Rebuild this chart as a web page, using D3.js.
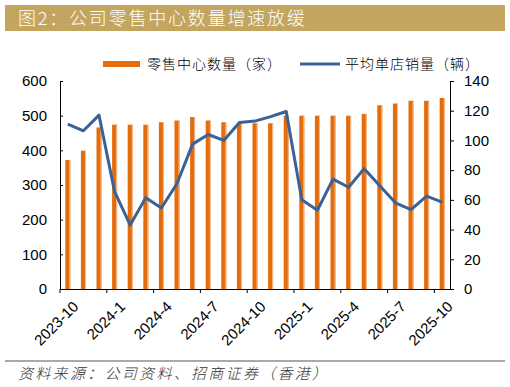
<!DOCTYPE html>
<html>
<head>
<meta charset="utf-8">
<script src="https://cdn.jsdelivr.net/npm/d3@7"></script>
<style>
  body { margin: 0; background: white; }
  text { font-family: "Liberation Sans", Arial, sans-serif; }
  .cjk { font-family: "Noto Sans CJK SC", sans-serif; font-weight: 300; }
</style>
</head>
<body>
<div id="chart"></div>
<script>
// months, 2023-10 .. 2025-10
var months = ["2023-10","2023-11","2023-12","2024-1","2024-2","2024-3","2024-4","2024-5","2024-6",
  "2024-7","2024-8","2024-9","2024-10","2024-11","2024-12","2025-1","2025-2","2025-3","2025-4",
  "2025-5","2025-6","2025-7","2025-8","2025-9","2025-10"];
// 零售中心数量（家）
var centers = [372, 399, 466, 474, 474, 474, 481, 486, 496, 486, 481, 478, 478, 478, 500,
  500, 500, 500, 500, 505, 530, 535, 543, 543, 551];
// 平均单店销量（辆）
var salesPerStore = [111, 106.5, 117, 65.5, 43, 61.5, 54.5, 71, 97.5, 104, 100, 112, 113,
  116, 119.5, 60, 53, 74, 68.5, 81, 69.5, 58, 53.5, 62.5, 58.5];
var tickMonths = ["2023-10","2024-1","2024-4","2024-7","2024-10","2025-1","2025-4","2025-7","2025-10"];
var leftTicks = [0, 100, 200, 300, 400, 500, 600];
var rightTicks = [0, 20, 40, 60, 80, 100, 120, 140];

var W = 510, H = 387;
var margin = {left: 60, right: 60, top: 81, bottom: 98};
var width = 450 - margin.left, height = 289 - margin.top;

var svg = d3.select("#chart").append("svg")
  .attr("width", W).attr("height", H);

// title bar
svg.append("rect").attr("x", 5).attr("y", 5).attr("width", 500).attr("height", 26)
  .attr("fill", "#C4A55F");
svg.append("text").attr("class", "cjk")
  .attr("x", 18).attr("y", 24.5)
  .attr("fill", "white").style("font-size", "18px").style("letter-spacing", "1.8px")
  .text("图2：公司零售中心数量增速放缓");

var g = svg.append("g").attr("transform", "translate(" + margin.left + "," + margin.top + ")");

var x = d3.scaleBand().domain(months).range([0, width]);
var yL = d3.scaleLinear().domain([0, 600]).range([height, 0]);
var yR = d3.scaleLinear().domain([0, 140]).range([height, 0]);

var barW = 5;

// bars
var bars = g.append("g").selectAll("g").data(months).enter().append("g");
bars.append("rect")
  .attr("x", d => x(d) + x.bandwidth() / 2 - barW / 2)
  .attr("y", (d, i) => yL(centers[i]))
  .attr("width", barW)
  .attr("height", (d, i) => height - yL(centers[i]))
  .attr("fill", "#E46C0A");
bars.append("rect")
  .attr("x", d => x(d) + x.bandwidth() / 2 + barW / 2 - 1)
  .attr("y", (d, i) => yL(centers[i]))
  .attr("width", 1)
  .attr("height", (d, i) => height - yL(centers[i]))
  .attr("fill", "#F5BE93");

// line
g.append("path")
  .datum(salesPerStore)
  .attr("fill", "none")
  .attr("stroke", "#3A6296")
  .attr("stroke-width", 3)
  .attr("stroke-linejoin", "round")
  .attr("d", d3.line()
    .x((d, i) => x(months[i]) + x.bandwidth() / 2)
    .y(d => yR(d)));

// left axis
var axL = g.append("g")
  .call(d3.axisLeft(yL).tickValues(leftTicks).tickSize(-3).tickPadding(13));
// right axis
var axR = g.append("g").attr("transform", "translate(" + width + ",0)")
  .call(d3.axisRight(yR).tickValues(rightTicks).tickSize(4).tickPadding(10));
// bottom axis, ticks at category left edges
var axB = g.append("g").attr("transform", "translate(0," + height + ")")
  .call(d3.axisBottom(x).tickValues([]).tickSizeOuter(0));
axB.selectAll(".tk").data(tickMonths).enter().append("line")
  .attr("x1", d => x(d)).attr("x2", d => x(d))
  .attr("y1", 0).attr("y2", 4)
  .attr("stroke", "black");
axB.selectAll(".lbl").data(tickMonths).enter().append("text")
  .attr("transform", d => "translate(" + (x(d) + x.bandwidth() / 2 + 4) + ",11)rotate(-45)")
  .attr("text-anchor", "end")
  .attr("dy", "0.71em")
  .attr("fill", "black")
  .style("font-size", "15px")
  .text(d => d);

[axL, axR, axB].forEach(function (a) {
  a.selectAll(".domain").attr("stroke", "black").attr("stroke-width", 1);
  a.selectAll(".tick line").attr("stroke", "black");
  a.selectAll(".tick text").style("font-size", "15px").attr("fill", "black");
});

// legend
svg.append("rect").attr("x", 103).attr("y", 61).attr("width", 37).attr("height", 6)
  .attr("fill", "#E46C0A");
svg.append("text").attr("class", "cjk").attr("x", 147).attr("y", 69)
  .style("font-size", "14px").style("letter-spacing", "1px")
  .text("零售中心数量（家）");
svg.append("line").attr("x1", 300).attr("x2", 340).attr("y1", 64).attr("y2", 64)
  .attr("stroke", "#3A6296").attr("stroke-width", 3);
svg.append("text").attr("class", "cjk").attr("x", 345).attr("y", 69)
  .style("font-size", "14px").style("letter-spacing", "1px")
  .text("平均单店销量（辆）");

// source
svg.append("line").attr("x1", 5).attr("x2", 505).attr("y1", 361).attr("y2", 361)
  .attr("stroke", "#8C8C8C").attr("stroke-width", 1.5);
svg.append("text").attr("class", "cjk").attr("x", 18).attr("y", 379)
  .style("font-size", "15px").style("font-style", "italic").style("letter-spacing", "2.3px")
  .attr("fill", "#333")
  .text("资料来源：公司资料、招商证券（香港）");
</script>
</body>
</html>
